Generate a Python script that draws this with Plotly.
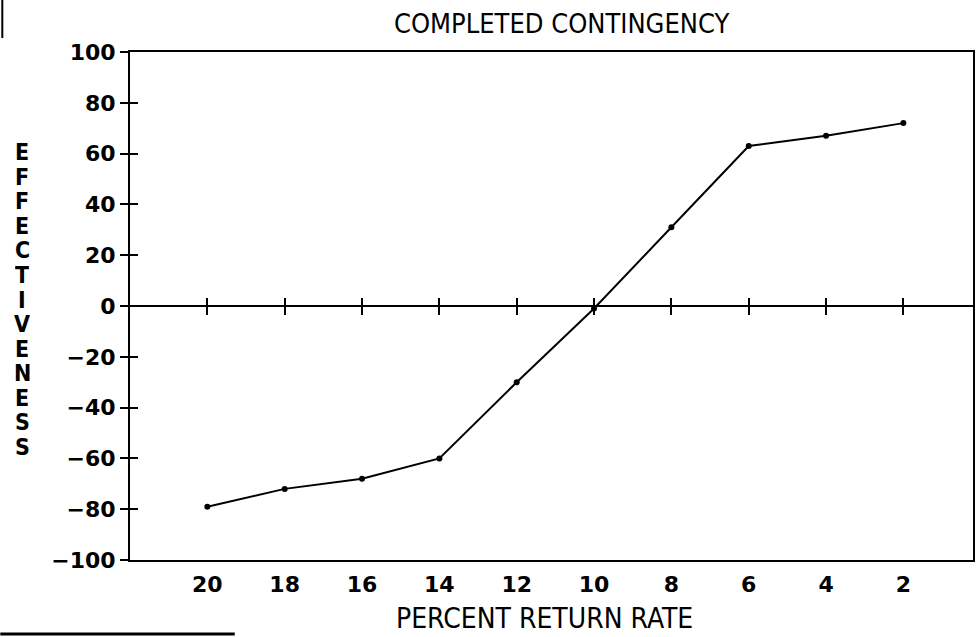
import plotly.graph_objects as go

# ---- data ----
chart_title = "COMPLETED CONTINGENCY"
x_title = "PERCENT RETURN RATE"
y_title = "EFFECTIVENESS"
return_rate = [20, 18, 16, 14, 12, 10, 8, 6, 4, 2]
effectiveness = [-79, -72, -68, -60, -30, -1, 31, 63, 67, 72]
x_ticks = [20, 18, 16, 14, 12, 10, 8, 6, 4, 2]
y_ticks = [-100, -80, -60, -40, -20, 0, 20, 40, 60, 80, 100]

# ---- layout geometry ----
W, H = 976, 637
L, R, T, B = 130, 1, 52, 77
PW, PH = W - L - R, H - T - B
x_range = [22, 0.2]
y_range = [-100, 100]

def px_to_paper(px, py):
    return (px - L) / PW, (H - B - py) / PH

tick_font = dict(family="DejaVu Sans", size=22, color="black", weight="bold")
text_family = "Liberation Sans Narrow, DejaVu Sans Condensed, Liberation Sans"

fig = go.Figure()
fig.add_trace(go.Scatter(
    x=return_rate, y=effectiveness, mode="lines+markers",
    line=dict(color="black", width=2),
    marker=dict(color="black", size=6),
    xaxis="x", yaxis="y", showlegend=False, hoverinfo="x+y",
))
# invisible helper traces so the overlay axes are drawn
for xa, ya in [("x2", "y"), ("x3", "y"), ("x", "y2")]:
    fig.add_trace(go.Scatter(x=[None], y=[None], xaxis=xa, yaxis=ya,
                             showlegend=False, hoverinfo="skip"))

common_x = dict(range=x_range, tickvals=x_ticks, showgrid=False, zeroline=False)
common_y = dict(range=y_range, tickvals=y_ticks, showgrid=False)

fig.update_layout(
    width=W, height=H,
    margin=dict(l=L, r=R, t=T, b=B),
    paper_bgcolor="white", plot_bgcolor="white",
    xaxis=dict(**common_x, ticks="", showline=True, linecolor="black",
               linewidth=2, mirror=True, tickfont=tick_font,
               ticklabelstandoff=4),
    xaxis2=dict(**common_x, overlaying="x", anchor="free", position=0.5,
                ticks="outside", ticklen=8, tickwidth=2, tickcolor="black",
                showticklabels=False, showline=False),
    xaxis3=dict(**common_x, overlaying="x", anchor="free", position=0.5,
                ticks="inside", ticklen=8, tickwidth=2, tickcolor="black",
                showticklabels=False, showline=False),
    yaxis=dict(**common_y, ticks="outside", ticklen=8, tickwidth=2,
               tickcolor="black", showline=True, linecolor="black",
               linewidth=2, mirror=True, tickfont=tick_font,
               zeroline=True, zerolinecolor="black", zerolinewidth=2),
    yaxis2=dict(**common_y, overlaying="y", anchor="x", side="left",
                ticks="inside", ticklen=8, tickwidth=2, tickcolor="black",
                showticklabels=False, showline=False, zeroline=False),
)

annotations = []
tx, ty = px_to_paper(563, 23)
annotations.append(dict(text=chart_title, x=tx, y=ty, xref="paper", yref="paper",
                        showarrow=False, xanchor="center", yanchor="middle",
                        font=dict(family=text_family, size=27, color="black")))
tx, ty = px_to_paper(545, 618)
annotations.append(dict(text=x_title, x=tx, y=ty, xref="paper", yref="paper",
                        showarrow=False, xanchor="center", yanchor="middle",
                        font=dict(family=text_family, size=28, color="black")))
# stacked vertical y title: one letter per row
top_c, bot_c = 152, 447
n = len(y_title)
for i, ch in enumerate(y_title):
    py = top_c + (bot_c - top_c) * i / (n - 1)
    ax, ay = px_to_paper(22, py)
    annotations.append(dict(text=ch, x=ax, y=ay, xref="paper", yref="paper",
                            showarrow=False, xanchor="center", yanchor="middle",
                            height=22, borderpad=0,
                            font=dict(family=text_family, size=23, color="black",
                                      weight="bold")))
fig.update_layout(annotations=annotations)

# scan-edge artefacts
x0, y0 = px_to_paper(0, 634)
x1, _ = px_to_paper(235, 634)
fig.add_shape(type="line", xref="paper", yref="paper", x0=x0, x1=x1, y0=y0, y1=y0,
              line=dict(color="black", width=3))
vx, vy0 = px_to_paper(2, 0)
_, vy1 = px_to_paper(2, 38)
fig.add_shape(type="line", xref="paper", yref="paper", x0=vx, x1=vx, y0=vy0, y1=vy1,
              line=dict(color="black", width=2))

fig.write_html("out.html", config={"displayModeBar": False},
               post_script="document.body.style.margin='0';")
